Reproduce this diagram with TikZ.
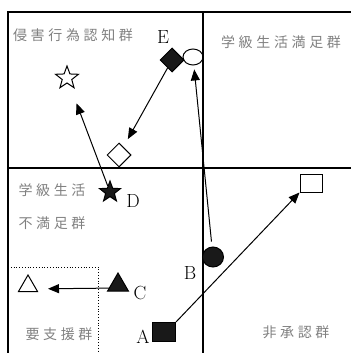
\documentclass[tikz,border=0pt]{standalone}
\usepackage{fontspec}
\usetikzlibrary{arrows.meta,shapes.geometric}
\newfontfamily\cjk[LetterSpace=26]{Noto Sans CJK JP}

\begin{document}
\begin{tikzpicture}[
  x=1pt, y=-1pt,
  frame/.style={line width=1.2pt},
  zone/.style={font=\cjk\fontsize{14}{15}\selectfont, text=black!50, inner sep=0pt, align=left},
  tag/.style={font=\fontsize{19}{19}\selectfont, inner sep=0pt},
  openmk/.style={draw, line width=1pt, inner sep=0pt},
  filledmk/.style={openmk, fill=black!90},
  arrow/.style={-{Triangle[length=11pt, width=9pt]}, line width=1pt}
]
\useasboundingbox (0,0) rectangle (351,353);

% quadrants
\draw[frame] (8,353) -- (8,12) -- (351,12);
\draw[frame] (8,168) -- (351,168);
\draw[frame] (203,12) -- (203,353);
\draw[dotted, line width=0.8pt] (8,267) -- (98,267) -- (98,353);

\node[zone] (harm) at (73, 35) {侵害行為認知群};
\node[zone] (satis) at (281, 42) {学級生活満足群};
\node[zone] (unsatis) at (52, 206.5) {学級生活\\[18pt]不満足群};
\node[zone] (support) at (59, 334) {要支援群};
\node[zone] (nonrec) at (296, 332) {非承認群};

% markers
\node[filledmk, diamond, minimum width=24pt, minimum height=24pt] (Efill) at (172, 60) {};
\node[openmk, diamond, minimum width=24pt, minimum height=24pt] (Eopen) at (119, 155) {};
\node[openmk, ellipse, minimum width=20pt, minimum height=16pt] (Bopen) at (193, 57) {};
\node[filledmk, ellipse, minimum width=21pt, minimum height=20pt] (Bfill) at (213, 257) {};
\node[openmk, star, star points=5, star point ratio=2.4, minimum size=24pt] (Dopen) at (67, 78) {};
\node[filledmk, star, star points=5, star point ratio=2.4, minimum size=22pt] (Dfill) at (110, 192) {};
\node[openmk, regular polygon, regular polygon sides=3, minimum size=22pt] (Copen) at (28, 286) {};
\node[filledmk, regular polygon, regular polygon sides=3, minimum size=24pt] (Cfill) at (118, 285) {};
\node[filledmk, rectangle, minimum width=23pt, minimum height=19pt] (Afill) at (164, 332) {};
\node[openmk, rectangle, minimum width=22pt, minimum height=18pt] (Aopen) at (311, 183) {};

\node[tag] (Etag) at (163, 37) {E};
\node[tag] (Dtag) at (133, 201) {D};
\node[tag] (Ctag) at (140, 293) {C};
\node[tag] (Btag) at (190, 273) {B};
\node[tag] (Atag) at (143, 337) {A};

\draw[arrow, shorten >=9pt] (Efill) -- (Eopen);
\draw[arrow, shorten >=19pt] (Dfill) -- (Dopen);
\draw[arrow, shorten <=5pt, shorten >=4pt] (Bfill) -- (Bopen);
\draw[arrow, shorten <=9pt, shorten >=20pt] ([yshift=-3pt]Cfill.center) -- ([yshift=-3pt]Copen.center);
\draw[arrow] (Afill.north east) -- (Aopen.south west);

\end{tikzpicture}
\end{document}
